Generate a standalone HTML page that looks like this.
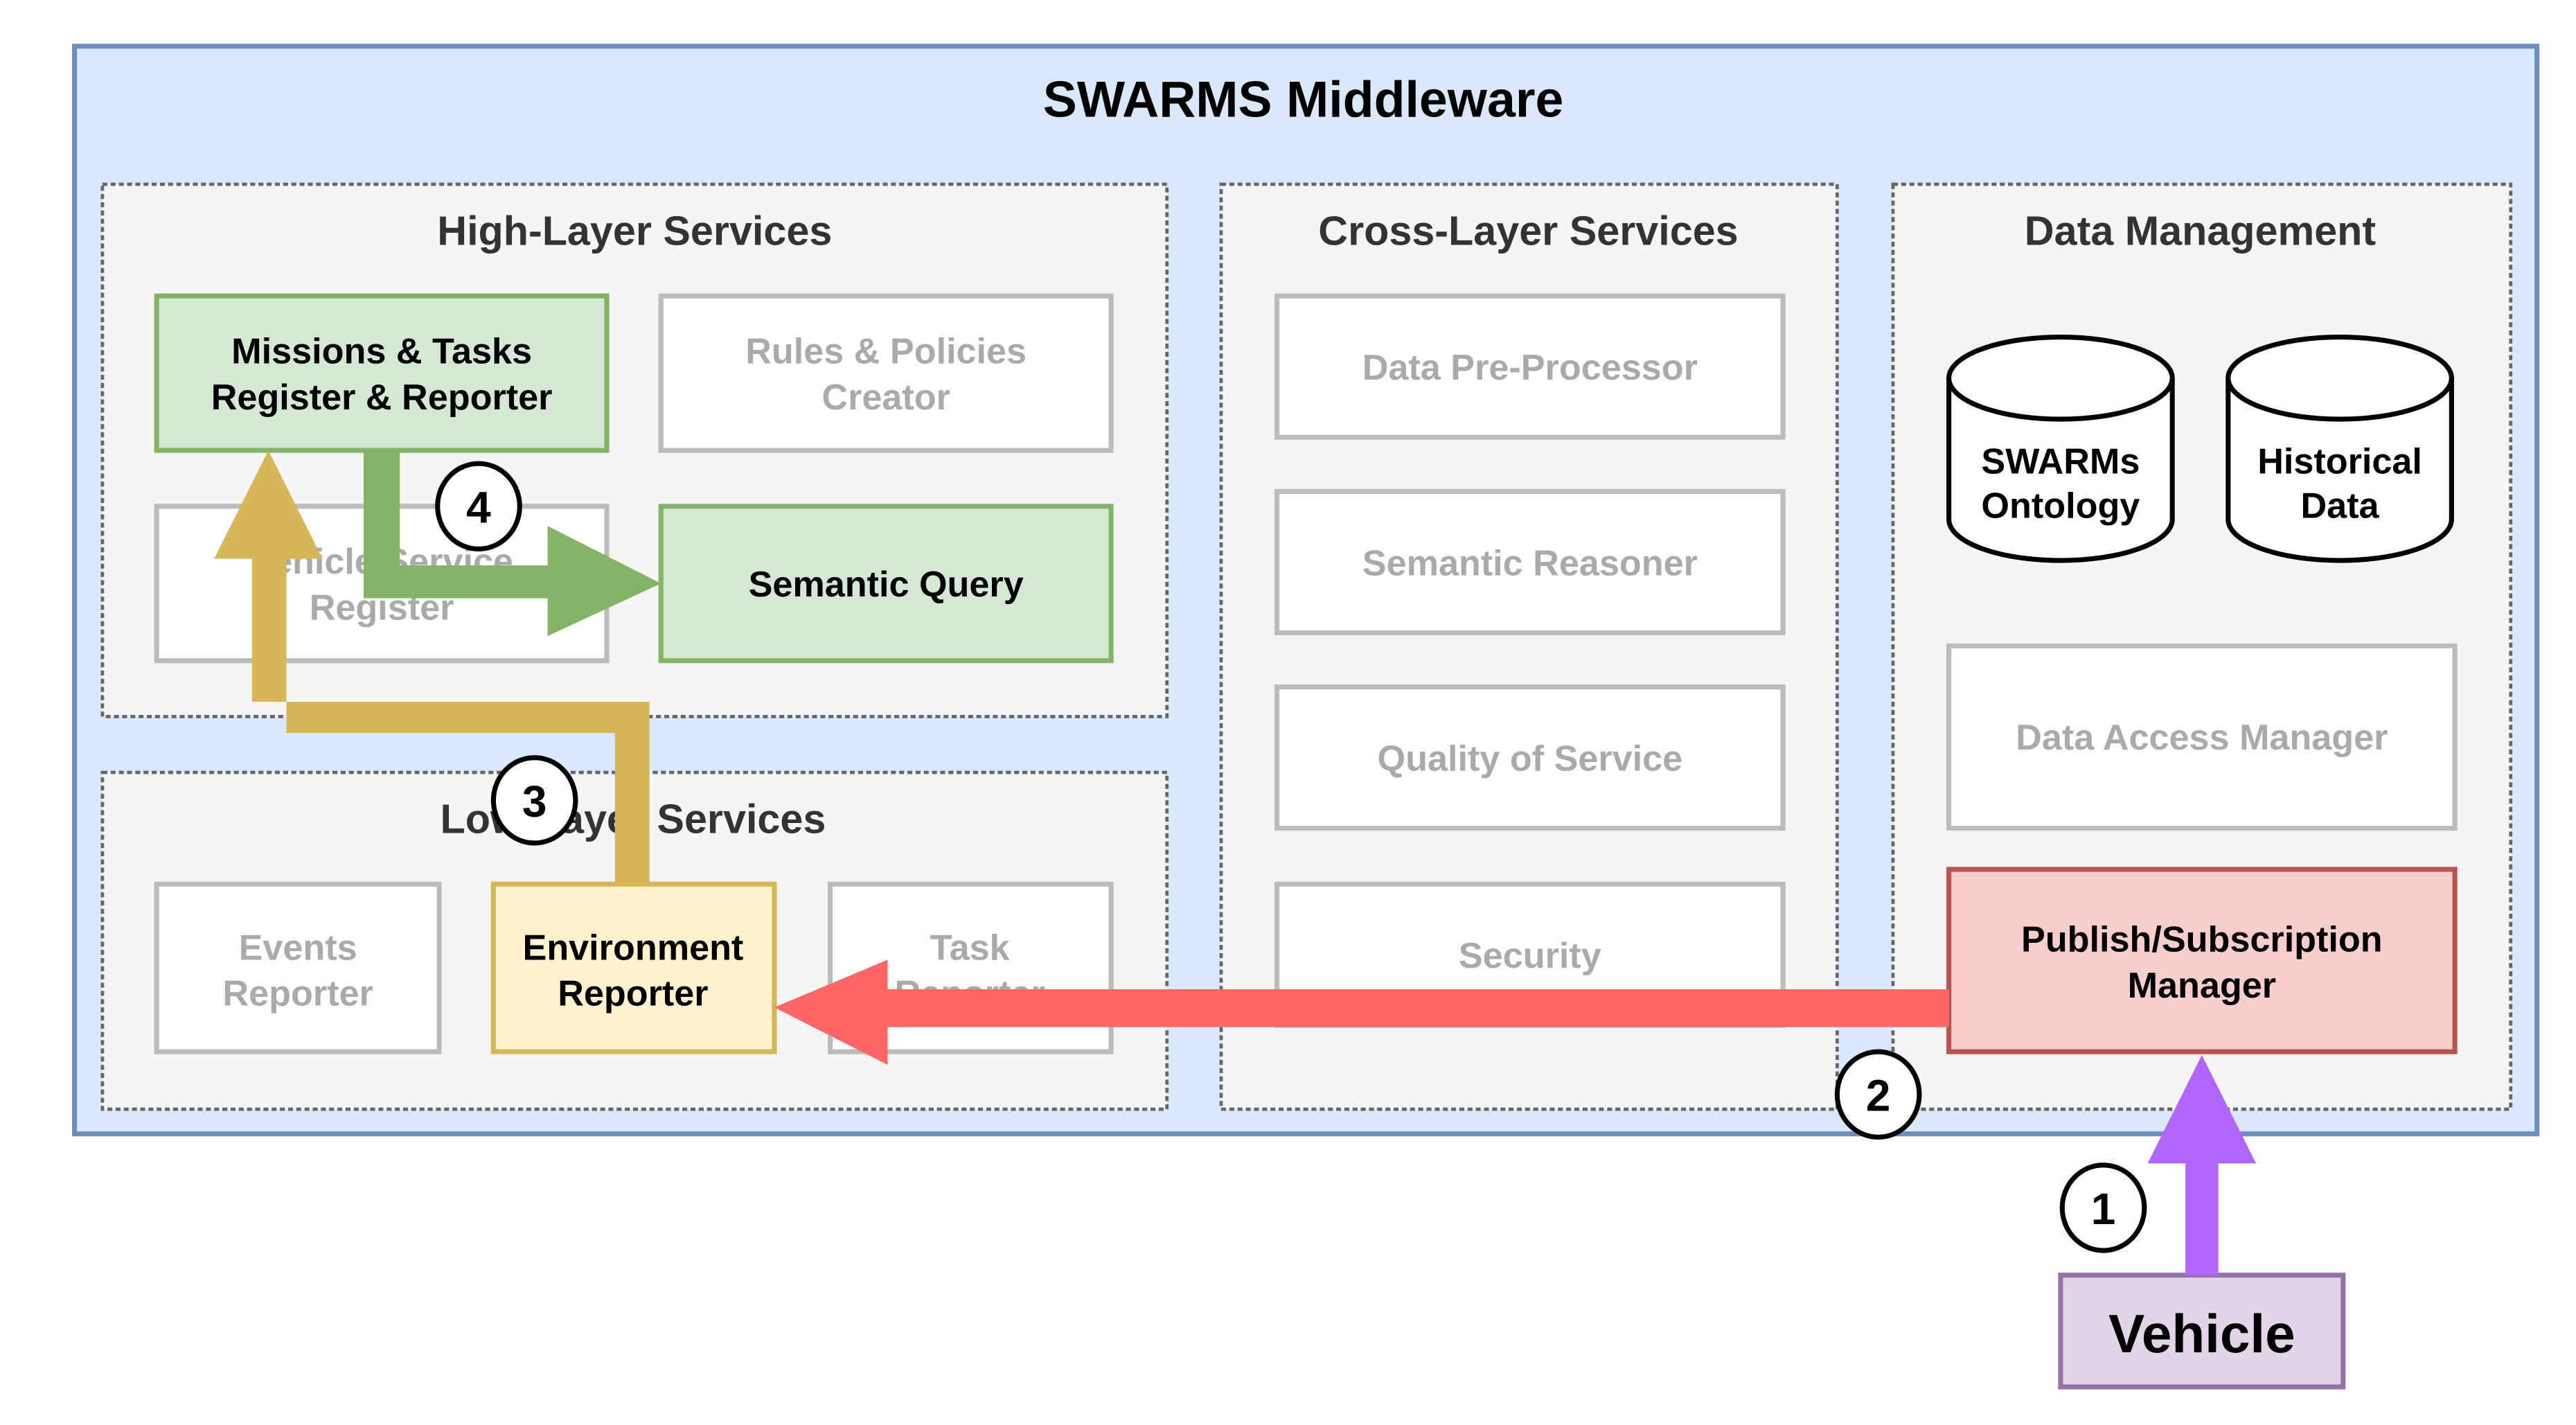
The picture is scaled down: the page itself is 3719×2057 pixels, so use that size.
<!DOCTYPE html>
<html><head><meta charset="utf-8"><style>html,body{margin:0;padding:0;background:#fff}svg{display:block}</style></head>
<body>
<svg xmlns="http://www.w3.org/2000/svg" width="3719" height="2057" viewBox="0 0 1560 863" font-family="Liberation Sans, Arial, sans-serif" font-weight="bold">
<rect x="0" y="0" width="1560" height="863" fill="#fff"/>
<g transform="translate(44,27) scale(0.995) translate(-44,-27)">
<rect x="45" y="28" width="1499" height="662" fill="#dae8fc" stroke="#6c8ebf" stroke-width="3"/>
<text x="793" y="71" font-size="31" text-anchor="middle" fill="#000">SWARMS Middleware</text>
<g fill="#f5f5f5" stroke="#666" stroke-width="2" stroke-dasharray="3,2">
<rect x="62" y="112" width="648" height="324"/>
<rect x="743" y="112" width="375" height="563"/>
<rect x="1152" y="112" width="376" height="563"/>
<rect x="62" y="470" width="648" height="205"/>
</g>
<g font-size="25" fill="#333" text-anchor="middle">
<text x="386" y="149">High-Layer Services</text>
<text x="930" y="149">Cross-Layer Services</text>
<text x="1339" y="149">Data Management</text>
<text x="385" y="507">Low-Layer Services</text>
</g>
<g stroke-width="3">
<rect x="95" y="180" width="274" height="94" fill="#d5e8d4" stroke="#82b366"/>
<rect x="402" y="180" width="274" height="94" fill="#fff" stroke="#bbb"/>
<rect x="95" y="308" width="274" height="94" fill="#fff" stroke="#bbb"/>
<rect x="402" y="308" width="274" height="94" fill="#d5e8d4" stroke="#82b366"/>
<rect x="777" y="180" width="308" height="86" fill="#fff" stroke="#bbb"/>
<rect x="777" y="299" width="308" height="86" fill="#fff" stroke="#bbb"/>
<rect x="777" y="418" width="308" height="86" fill="#fff" stroke="#bbb"/>
<rect x="777" y="538" width="308" height="86" fill="#fff" stroke="#bbb"/>
<rect x="1186" y="393" width="308" height="111" fill="#fff" stroke="#bbb"/>
<rect x="1186" y="529" width="308" height="111" fill="#f8cecc" stroke="#b85450"/>
<rect x="95" y="538" width="172" height="102" fill="#fff" stroke="#bbb"/>
<rect x="300" y="538" width="171" height="102" fill="#fff2cc" stroke="#d6b656"/>
<rect x="505" y="538" width="171" height="102" fill="#fff" stroke="#bbb"/>
<rect x="1254" y="776" width="172" height="68" fill="#e1d5e7" stroke="#9673a6"/>
</g>
<g fill="#fff" stroke="#000" stroke-width="3">
<path d="M1186 230 A68 25 0 0 1 1322 230 L1322 316 A68 25 0 0 1 1186 316 Z"/>
<path d="M1186 230 A68 25 0 0 0 1322 230"/>
<path d="M1356 230 A68 25 0 0 1 1492 230 L1492 316 A68 25 0 0 1 1356 316 Z"/>
<path d="M1356 230 A68 25 0 0 0 1492 230"/>
</g>
<g font-size="22" text-anchor="middle">
<text x="232" y="221" fill="#000">Missions &amp; Tasks</text>
<text x="232" y="249" fill="#000">Register &amp; Reporter</text>
<text x="539" y="221" fill="#aaa">Rules &amp; Policies</text>
<text x="539" y="249" fill="#aaa">Creator</text>
<text x="232" y="349" fill="#aaa">Vehicle   Service</text>
<text x="232" y="377" fill="#aaa">Register</text>
<text x="539" y="363" fill="#000">Semantic Query</text>
<text x="931" y="231" fill="#aaa">Data Pre-Processor</text>
<text x="931" y="350" fill="#aaa">Semantic Reasoner</text>
<text x="931" y="469" fill="#aaa">Quality of Service</text>
<text x="931" y="589" fill="#aaa">Security</text>
<text x="1340" y="456" fill="#aaa">Data Access Manager</text>
<text x="1340" y="579" fill="#000">Publish/Subscription</text>
<text x="1340" y="607" fill="#000">Manager</text>
<text x="181" y="584" fill="#aaa">Events</text>
<text x="181" y="612" fill="#aaa">Reporter</text>
<text x="385" y="584" fill="#000">Environment</text>
<text x="385" y="612" fill="#000">Reporter</text>
<text x="590" y="584" fill="#aaa">Task</text>
<text x="590" y="612" fill="#aaa">Reporter</text>
<text x="1254" y="288" fill="#000">SWARMs</text>
<text x="1254" y="315" fill="#000">Ontology</text>
<text x="1424" y="288" fill="#000">Historical</text>
<text x="1424" y="315" fill="#000">Data</text>
<text x="1340" y="823" font-size="33" fill="#000">Vehicle</text>
</g>
<path d="M1186 602 L540 602 L540 584 L471 613 L540 648 L540 625 L1186 625 Z" fill="#ff6666"/>
<path d="M1330 776 L1330 708 L1307 708 L1340 642 L1373 708 L1350 708 L1350 776 Z" fill="#b266ff"/>
<path d="M374 538 L374 446 L174 446 L174 340 L196 340 L163 274 L130 340 L153 340 L153 427 L395 427 L395 538 Z" fill="#d6b656"/>
<path d="M221 274 L221 364 L333 364 L333 387 L402 355 L333 320 L333 344 L243 344 L243 274 Z" fill="#82b366"/>
<g fill="#fff" stroke="#000" stroke-width="3">
<ellipse cx="291" cy="308" rx="25" ry="26"/>
<ellipse cx="325" cy="487" rx="25" ry="26"/>
<ellipse cx="1143" cy="666" rx="25" ry="26"/>
<ellipse cx="1280" cy="735" rx="25" ry="26"/>
</g>
<g font-size="27" text-anchor="middle" fill="#000">
<text x="291" y="318">4</text>
<text x="325" y="497">3</text>
<text x="1143" y="676">2</text>
<text x="1280" y="745">1</text>
</g>
</g>
</svg>
</body></html>
